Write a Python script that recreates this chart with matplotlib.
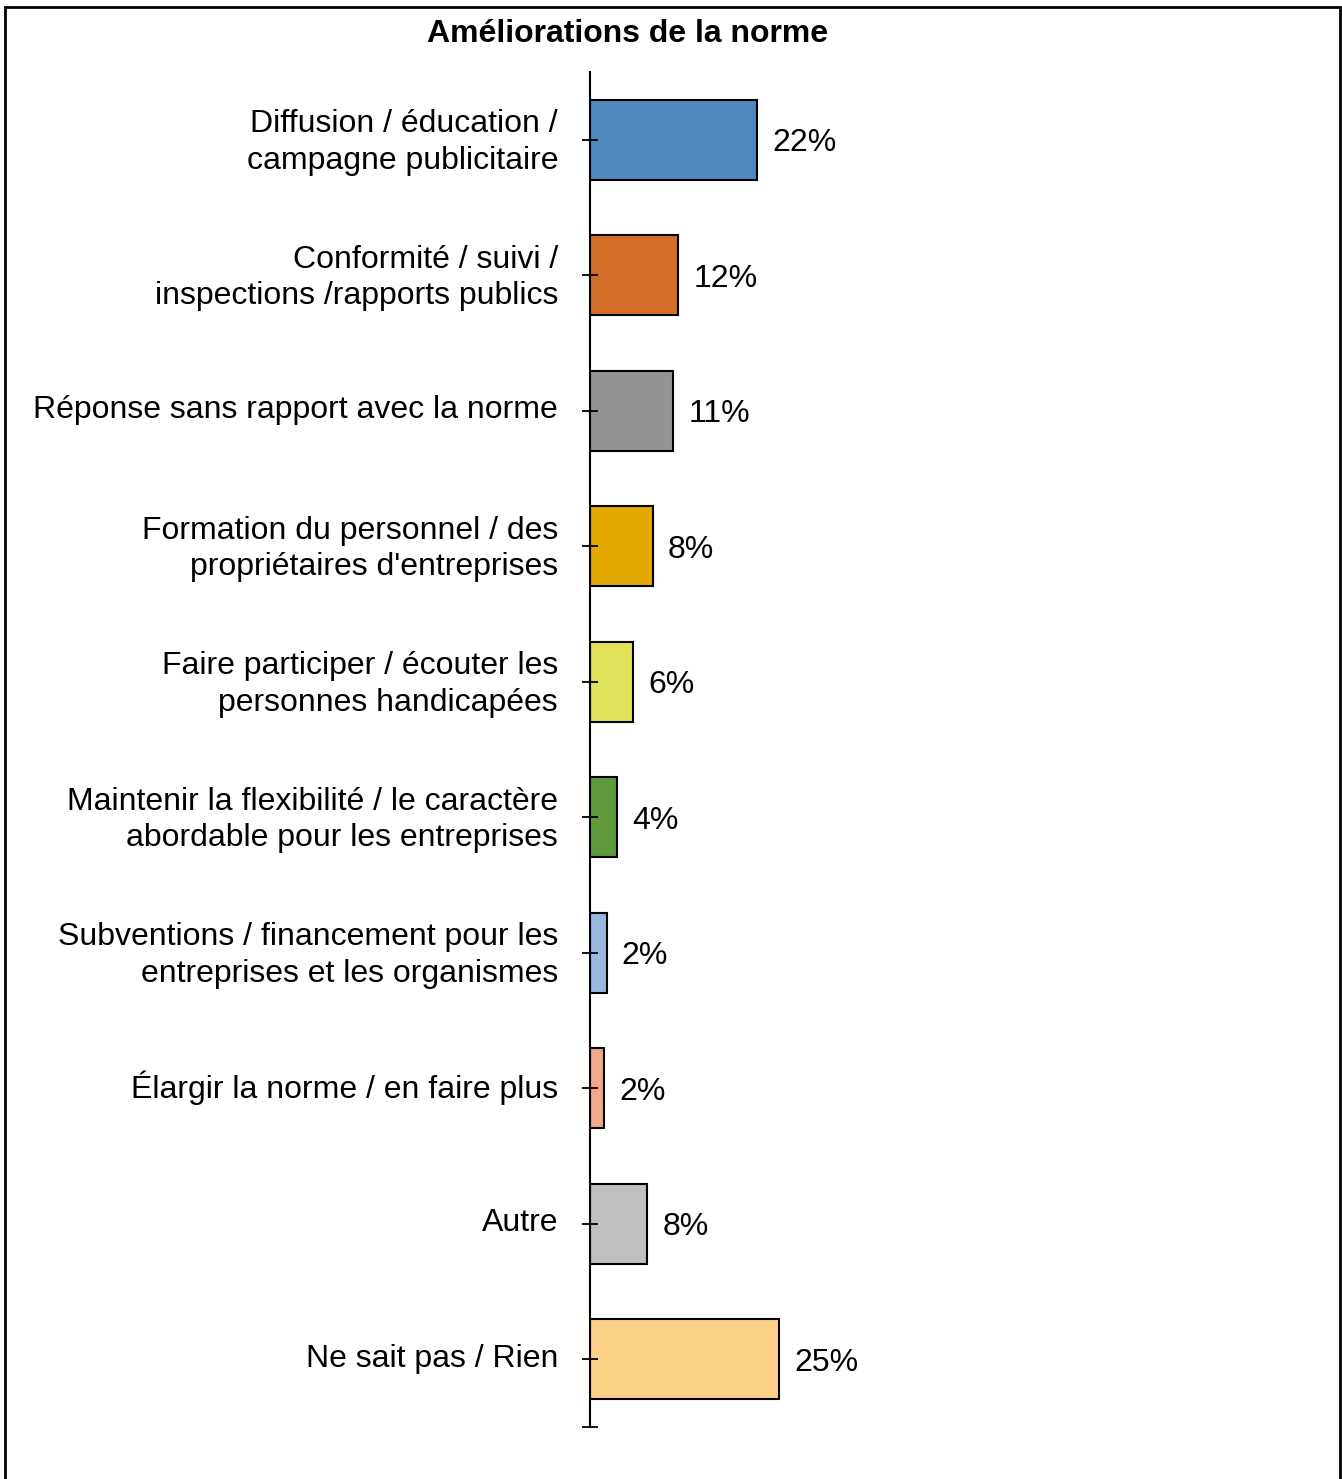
import matplotlib.pyplot as plt
import matplotlib.transforms as mtransforms
from matplotlib.patches import Rectangle

plt.rcParams['font.family'] = ['Liberation Sans', 'DejaVu Sans']

categories = [
    "Diffusion / éducation /\ncampagne publicitaire",
    "Conformité / suivi /\ninspections /rapports publics",
    "Réponse sans rapport avec la norme",
    "Formation du personnel / des\npropriétaires d'entreprises",
    "Faire participer / écouter les\npersonnes handicapées",
    "Maintenir la flexibilité / le caractère\nabordable pour les entreprises",
    "Subventions / financement pour les\nentreprises et les organismes",
    "Élargir la norme / en faire plus",
    "Autre",
    "Ne sait pas / Rien",
]
values = [22.1, 11.7, 11.0, 8.3, 5.7, 3.6, 2.2, 1.9, 7.6, 25.0]
colors = ["#4F88BC", "#D36D2A", "#939393", "#E2A900", "#E0E35A",
          "#5E9A3C", "#97B9E0", "#F2A88A", "#C0C0C0", "#FDD088"]

W, H = 1342, 1479
fig = plt.figure(figsize=(W / 100, H / 100), dpi=100)
ax = fig.add_axes([590 / W, 1 - 1427 / H, 710 / W, (1427 - 72) / H])

ypos = list(range(len(values)))
bars = ax.barh(ypos, values, height=0.59, color=colors,
               edgecolor="black", linewidth=1.5)
ax.set_ylim(len(values) - 0.5, -0.5)
ax.set_xlim(0, 94)

for b, v in zip(bars, values):
    ax.text(b.get_width() + 2.0, b.get_y() + b.get_height() / 2,
            f"{v:.0f}%", va="center_baseline", ha="left", fontsize=23)

ax.set_yticks(ypos)
ax.set_yticklabels(categories, fontsize=23, linespacing=1.28)
ax.set_yticks([len(values) - 0.5], minor=True)
ax.tick_params(axis="y", which="both", direction="inout", length=12,
               width=1.3, pad=17)
# lift the category labels a little
lift = mtransforms.ScaledTranslation(0, 4 / 100, fig.dpi_scale_trans)
for lbl in ax.get_yticklabels():
    lbl.set_transform(lbl.get_transform() + lift)
ax.set_xticks([])
for s in ["top", "right", "bottom"]:
    ax.spines[s].set_visible(False)
ax.spines["left"].set_linewidth(1.5)

fig.text(628 / W, 1 - 31 / H, "Améliorations de la norme", ha="center",
         va="center_baseline", fontsize=23, fontweight="bold")

# outer frame
fig.patches.append(Rectangle((5 / W, -0.05), 1335 / W, 1.05 - 7 / H,
                             transform=fig.transFigure, fill=False,
                             edgecolor="black", linewidth=2))

plt.savefig("out.png", dpi=100)
